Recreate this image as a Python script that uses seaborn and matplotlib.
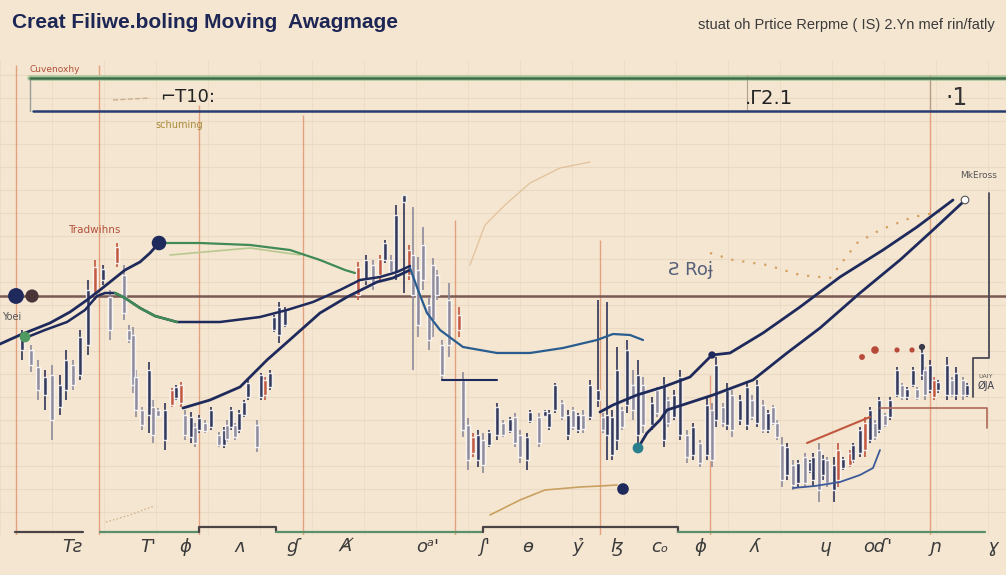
import numpy as np
import pandas as pd
import seaborn as sns
import matplotlib
matplotlib.use("Agg")
import matplotlib.pyplot as plt
from matplotlib.ticker import MultipleLocator

# candle data (x = session position, values in price units)
candle_x = [22, 31, 38, 45, 52, 60, 66, 73, 80, 88,
            95, 103, 110, 117, 124, 129, 133, 136, 142, 149,
            153, 158, 165, 172, 176, 181, 185, 191, 195, 199,
            205, 211, 219, 224, 227, 231, 235, 239, 244, 248,
            257, 261, 265, 270, 274, 279, 285, 358, 366, 373,
            380, 385, 391, 396, 404, 409, 413, 418, 423, 429,
            433, 437, 442, 449, 459, 463, 468, 473, 478, 483,
            489, 497, 503, 510, 515, 520, 527, 530, 539, 545,
            549, 555, 562, 568, 573, 578, 583, 590, 598, 603,
            607, 612, 617, 622, 627, 633, 638, 643, 652, 657,
            664, 668, 674, 680, 687, 693, 700, 707, 712, 716,
            723, 727, 732, 740, 747, 752, 757, 763, 768, 773,
            777, 782, 787, 793, 798, 805, 810, 813, 819, 823,
            827, 834, 838, 843, 850, 853, 860, 865, 870, 875,
            879, 885, 890, 897, 902, 907, 913, 917, 922, 925,
            930, 934, 938, 947, 952, 956, 963, 967]
candle_hi = [205, 190, 175, 165, 170, 160, 185, 175, 205, 255,
             275, 270, 245, 292, 270, 210, 208, 165, 128, 173,
             135, 127, 132, 147, 150, 153, 125, 123, 112, 120,
             115, 128, 103, 108, 115, 128, 112, 125, 135, 155,
             115, 162, 158, 165, 220, 233, 228, 273, 280, 275,
             280, 295, 280, 330, 340, 290, 328, 278, 308, 238,
             277, 265, 195, 252, 228, 163, 117, 102, 105, 102,
             105, 132, 115, 118, 122, 105, 102, 125, 122, 125,
             125, 152, 135, 125, 128, 122, 125, 155, 235, 122,
             233, 125, 188, 128, 195, 165, 175, 158, 138, 148,
             158, 138, 145, 165, 105, 112, 95, 138, 132, 178,
             132, 152, 145, 140, 152, 140, 155, 135, 125, 130,
             115, 98, 92, 75, 75, 82, 75, 82, 92, 80,
             78, 78, 92, 78, 85, 92, 108, 118, 128, 115,
             138, 122, 138, 168, 152, 148, 168, 148, 188, 168,
             175, 158, 155, 178, 158, 168, 158, 152]
candle_lo = [175, 163, 135, 125, 95, 120, 135, 145, 155, 180,
             235, 250, 195, 268, 215, 192, 142, 118, 105, 102,
             92, 118, 85, 128, 135, 128, 95, 92, 88, 102,
             102, 105, 88, 87, 93, 105, 95, 102, 118, 135,
             83, 135, 135, 145, 203, 192, 208, 235, 250, 245,
             255, 272, 260, 255, 242, 255, 165, 198, 245, 185,
             198, 235, 155, 178, 198, 98, 65, 78, 68, 62,
             88, 95, 98, 102, 88, 72, 65, 112, 88, 118,
             105, 122, 115, 95, 105, 102, 102, 115, 128, 102,
             75, 75, 85, 105, 122, 115, 92, 102, 105, 118,
             88, 108, 115, 95, 72, 75, 68, 75, 68, 108,
             108, 105, 98, 110, 105, 115, 108, 102, 102, 110,
             95, 48, 55, 45, 48, 48, 62, 48, 33, 55,
             48, 33, 48, 65, 68, 72, 78, 78, 92, 95,
             102, 108, 115, 138, 135, 135, 148, 135, 155, 135,
             142, 135, 142, 135, 138, 135, 135, 138]
candle_open = [185, 185, 168, 140, 160, 128, 145, 170, 160, 190,
               240, 255, 238, 272, 260, 205, 200, 158, 125, 120,
               128, 125, 95, 130, 137, 150, 120, 98, 108, 105,
               112, 108, 100, 90, 110, 108, 110, 105, 120, 138,
               110, 138, 155, 148, 205, 200, 210, 240, 255, 270,
               260, 275, 275, 262, 333, 260, 280, 265, 290, 230,
               270, 260, 190, 235, 220, 155, 110, 98, 75, 95,
               90, 100, 112, 104, 118, 100, 75, 114, 118, 119,
               108, 125, 132, 100, 125, 105, 120, 118, 135, 118,
               100, 80, 95, 125, 130, 150, 100, 150, 110, 145,
               95, 135, 118, 100, 100, 80, 92, 80, 125, 115,
               128, 110, 140, 115, 110, 135, 112, 130, 105, 128,
               112, 90, 60, 70, 52, 78, 64, 55, 85, 60,
               75, 45, 85, 67, 82, 75, 82, 112, 95, 112,
               105, 120, 118, 140, 150, 138, 150, 146, 160, 165,
               145, 155, 145, 140, 155, 140, 155, 140]
candle_close = [198, 170, 145, 158, 115, 150, 175, 150, 198, 245,
                268, 266, 205, 288, 222, 195, 150, 125, 110, 165,
                100, 119, 125, 145, 148, 132, 100, 118, 92, 117,
                104, 125, 90, 105, 96, 125, 98, 122, 133, 152,
                88, 160, 140, 162, 218, 228, 225, 268, 275, 250,
                276, 292, 263, 320, 340, 285, 240, 210, 255, 195,
                215, 240, 160, 190, 205, 105, 75, 82, 100, 70,
                103, 128, 100, 116, 92, 78, 98, 123, 92, 124,
                122, 150, 118, 120, 108, 120, 106, 150, 145, 105,
                120, 118, 165, 108, 185, 125, 160, 110, 132, 122,
                150, 112, 140, 158, 78, 108, 72, 130, 75, 170,
                112, 145, 105, 135, 148, 118, 150, 105, 122, 112,
                98, 55, 88, 50, 72, 52, 73, 78, 45, 76,
                52, 70, 55, 76, 70, 90, 105, 85, 125, 98,
                135, 110, 135, 165, 138, 146, 165, 137, 182, 140,
                170, 138, 153, 170, 140, 162, 140, 150]
red_sessions = [95, 117, 172, 181, 265, 358, 380, 409, 459, 473, 838, 850, 865, 934]

# moving averages and trend lines
ma_fast_x = [0, 20, 50, 70, 87, 100, 110, 125, 140, 150, 159]
ma_fast_y = [191, 200, 212, 223, 235, 245, 253, 265, 273, 282, 292]
ma_fast_tail_x = [159, 200, 250, 290, 320, 345, 355]
ma_fast_tail_y = [292, 292, 290, 285, 275, 265, 262]
ma_mid_x = [25, 45, 67, 85, 97, 105, 115, 125, 140, 155, 177, 220, 260, 287, 313, 340, 360, 380, 397, 410]
ma_mid_y = [197, 205, 213, 225, 239, 242, 242, 237, 227, 219, 213, 213, 218, 225, 233, 245, 255, 258, 263, 269]
ma_slow_x = [183, 210, 240, 267, 293, 320, 347, 377, 393, 410]
ma_slow_y = [127, 135, 148, 175, 198, 222, 238, 253, 257, 265]
ma_blue_x = [410, 418, 427, 440, 463, 497, 530, 563, 597, 613, 630, 643]
ma_blue_y = [267, 245, 222, 205, 188, 182, 182, 187, 195, 201, 200, 195]
trend_a_x = [600, 613, 637, 663, 690, 712, 730, 763, 800, 840, 883, 917, 953]
trend_a_y = [123, 130, 140, 148, 158, 180, 182, 202, 228, 258, 285, 308, 335]
trend_b_x = [638, 647, 660, 667, 713, 753, 787, 820, 860, 900, 933, 962]
trend_b_y = [87, 102, 115, 125, 140, 155, 182, 207, 242, 275, 305, 332]
red_seg_x = [807, 870]
red_seg_y = [92, 118]
low_curve_x = [793, 815, 840, 860, 873, 880]
low_curve_y = [47, 49, 53, 60, 67, 85]
dots_tan_x = [710, 733, 767, 800, 830, 857, 880, 913, 940]
dots_tan_y = [282, 275, 270, 260, 257, 292, 305, 318, 323]
faint_x = [470, 485, 505, 530, 560, 590]
faint_y = [270, 310, 330, 352, 367, 373]
gold_x = [490, 520, 545, 580, 600, 617]
gold_y = [20, 35, 45, 48, 49, 50]

support_level = 239
band_top = 457
band_low = 424

tick_x = [72, 148, 185, 240, 293, 345, 428, 485, 528, 578, 617, 660, 700, 755, 825, 878, 935, 993]
tick_labels = ["Tƨ", "T'", "ɸ", "ʌ", "ɠ", "Ⱥ", "oᵃ'", "ʃ'", "ɵ", "ỷ", "ɮ", "cₒ",
               "ɸ", "ʎ", "ɥ", "oɗ'", "ɲ", "ɣ"]

bg = "#f5e6d1"
navy = "#1f2a5c"

sns.set_theme(style="white")
plt.rcParams["font.family"] = ["DejaVu Sans"]

fig = plt.figure(figsize=(10.06, 5.75), dpi=100, facecolor=bg)
ax = fig.add_axes([0, 40 / 575, 1, 475 / 575])
ax.set_facecolor(bg)
ax.set_xlim(0, 1006)
ax.set_ylim(0, 475)
for s in ax.spines.values():
    s.set_visible(False)

# paper grid
ax.set_yticks(np.arange(0, 476, 23))
ax.set_yticklabels([])
ax.tick_params(axis="y", length=0)
ax.xaxis.set_minor_locator(MultipleLocator(52))
ax.grid(axis="y", which="major", color="#ead9c3", lw=0.8)
ax.grid(axis="x", which="minor", color="#eddcc6", lw=0.7)

# orange verticals
orange_cols = [16, 99, 199, 303, 455, 600, 710, 930]
orange_tops = [470, 470, 430, 420, 315, 295, 160, 455]
ax.vlines(orange_cols, 0, orange_tops, color="#e0906a", lw=1.0, alpha=0.8, zorder=1)

# top band
ax.plot([30, 1006], [band_top, band_top], color="#a9c79a", lw=4, zorder=2)
ax.plot([30, 1006], [band_top, band_top], color="#3f6e4a", lw=1.8, zorder=3)
ax.plot([33, 1006], [band_low, band_low], color="#2a3d70", lw=1.8, zorder=3)
ax.plot([30, 30], [band_top, band_low], color="#9a9a9a", lw=1, zorder=2)
ax.vlines([747, 930], band_low, band_top + 3, color="#b0a090", lw=0.8)

# support line
ax.axhline(support_level, color="#7a5a52", lw=1.8, zorder=3)

# candles
cdf = pd.DataFrame({"x": candle_x, "hi": candle_hi, "lo": candle_lo,
                    "op": candle_open, "cl": candle_close})
cdf["col"] = np.where(cdf["cl"] >= cdf["op"], "#2f3458", "#8e8a9c")
cdf.loc[cdf["x"].isin(red_sessions), "col"] = "#c0573e"
ax.vlines(cdf["x"], cdf["lo"], cdf["hi"], colors=cdf["col"], lw=1.2, zorder=4)
ax.bar(cdf["x"], (cdf["cl"] - cdf["op"]).abs().clip(lower=2),
       bottom=cdf[["op", "cl"]].min(axis=1), width=3.4, color=cdf["col"],
       alpha=0.85, zorder=4)

# faint sketch curves
ax.plot(dots_tan_x, dots_tan_y, color="#d4a060", lw=1.6, ls=(0, (1, 4)), zorder=3)
ax.plot(faint_x, faint_y, color="#dcb68c", lw=1.0, alpha=0.7, zorder=2)
ax.plot(gold_x, gold_y, color="#c9a060", lw=1.2, zorder=3)
ax.plot([113, 150], [435, 437], color="#c8b090", lw=1, ls="--")
ax.plot([106, 130, 154], [13, 20, 29], color="#cfb08a", lw=1, ls=":")
ax.plot([170, 250, 300], [280, 287, 280], color="#b9c890", lw=1.2, zorder=3)

# averages
sns.lineplot(x=ma_fast_x, y=ma_fast_y, ax=ax, color=navy, lw=2.0, sort=False, estimator=None, zorder=5)
sns.lineplot(x=ma_fast_tail_x, y=ma_fast_tail_y, ax=ax, color="#3f8a55", lw=1.6, sort=False, estimator=None, zorder=5)
sns.lineplot(x=ma_mid_x, y=ma_mid_y, ax=ax, color=navy, lw=1.8, sort=False, estimator=None, zorder=5)
sns.lineplot(x=ma_mid_x[6:11], y=ma_mid_y[6:11], ax=ax, color="#3f8a55", lw=1.8, sort=False, estimator=None, zorder=6)
sns.lineplot(x=ma_slow_x, y=ma_slow_y, ax=ax, color=navy, lw=2.0, sort=False, estimator=None, zorder=5)
sns.lineplot(x=ma_blue_x, y=ma_blue_y, ax=ax, color="#2a5d8f", lw=1.6, sort=False, estimator=None, zorder=5)
sns.lineplot(x=trend_a_x, y=trend_a_y, ax=ax, color=navy, lw=2.0, sort=False, estimator=None, zorder=5)
sns.lineplot(x=trend_b_x, y=trend_b_y, ax=ax, color=navy, lw=2.0, sort=False, estimator=None, zorder=5)
sns.lineplot(x=red_seg_x, y=red_seg_y, ax=ax, color="#c0573e", lw=1.5, sort=False, estimator=None, zorder=5)
sns.lineplot(x=low_curve_x, y=low_curve_y, ax=ax, color="#3c5a9a", lw=1.3, sort=False, estimator=None, zorder=5)

# frames on right
ax.plot([989, 989, 973, 973], [342, 177, 177, 138], color="#4a4a55", lw=1.3, zorder=5)
ax.plot([880, 987, 987], [127, 127, 107], color="#b06a58", lw=1.2, zorder=5)
ax.plot([442, 497], [155, 155], color=navy, lw=1.5, zorder=5)

# bottom step line
ax.plot([15, 83], [3, 3], color="#4a4446", lw=1.6, clip_on=False)
ax.plot([100, 199], [3, 3], color="#5a8f6a", lw=1.6, clip_on=False)
ax.plot([199, 199, 276, 276], [3, 8, 8, 3], color="#4a4446", lw=1.6, clip_on=False)
ax.plot([276, 483], [3, 3], color="#5a8f6a", lw=1.6, clip_on=False)
ax.plot([483, 483, 678, 678], [3, 8, 8, 3], color="#4a4446", lw=1.6, clip_on=False)
ax.plot([678, 985], [3, 3], color="#5a8f6a", lw=1.6, clip_on=False)

# dots
dots = pd.DataFrame({
    "x": [16, 32, 159, 25, 638, 623, 712, 922, 862, 875, 897, 912, 965],
    "y": [239, 239, 292, 198, 87, 46, 180, 188, 178, 185, 185, 185, 335],
    "c": ["#1f2a5c", "#4a3438", "#1f2a5c", "#4f9a60", "#2a7f8f", "#1f2a5c", "#1f2a5c",
          "#3a3a4a", "#b84a3a", "#b84a3a", "#b84a3a", "#b84a3a", "#ffffff"],
    "s": [130, 90, 110, 60, 60, 70, 28, 20, 18, 30, 14, 14, 30],
})
sns.scatterplot(data=dots, x="x", y="y", ax=ax, c=dots["c"], s=dots["s"],
                edgecolor=["none"] * 12 + ["#555555"], linewidth=0.8, zorder=7, legend=False)

# small annotations
ax.text(30, 466, "Cuvenoxhy", fontsize=6.5, color="#b0503a", va="center")
ax.text(155, 410, "schuming", fontsize=7, color="#a88a3a", va="center")
ax.text(68, 305, "Tradwihns", fontsize=7.5, color="#b0503a", va="center")
ax.text(2, 218, "Yoei", fontsize=7, color="#555555", va="center")
ax.text(160, 438, "⌐T10:", fontsize=13, color="#222222", va="center")
ax.text(745, 437, ".Γ2.1", fontsize=14, color="#222222", va="center")
ax.text(946, 437, "·1", fontsize=17, color="#333333", va="center")
ax.text(668, 265, "Ƨ Roɉ", fontsize=13, color="#56607a", va="center")
ax.text(960, 359, "MkEross", fontsize=6.5, color="#555555", va="center")
ax.text(978, 158, "ƲAIY", fontsize=4.5, color="#555555", va="center")
ax.text(978, 149, "ØJA", fontsize=7, color="#3a3a4a", va="center")

# ticks
ax.set_xticks(tick_x)
ax.set_xticklabels(tick_labels, fontsize=13, color="#3a3a3a", fontstyle="italic")
ax.tick_params(axis="x", length=0, pad=2)
ax.set_xlabel("")
ax.set_ylabel("")

fig.text(12 / 1006, 1 - 22 / 575, "Creat Filiwe.boling Moving  Awagmage", fontsize=15,
         fontweight="bold", color="#1d2654", va="center", ha="left", family="Liberation Sans")
fig.text(995 / 1006, 1 - 25 / 575, "stuat oh Prtice Rerpme ( IS) 2.Yn mef rin/fatly",
         fontsize=10.5, color="#3b3b3b", va="center", ha="right", family="Liberation Sans")

fig.savefig("out.png", dpi=100, facecolor=bg)
